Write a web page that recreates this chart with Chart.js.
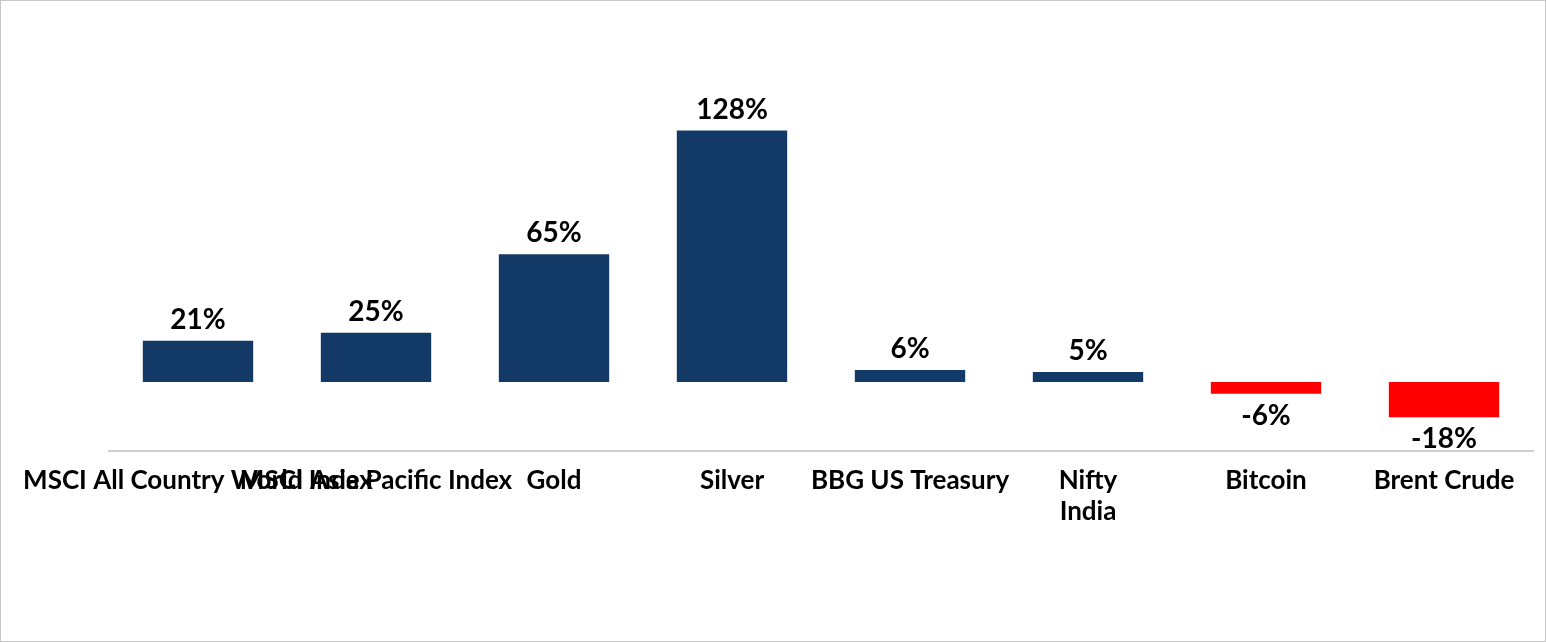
<!DOCTYPE html>
<html>
<head>
<meta charset="utf-8">
<script src="https://cdn.jsdelivr.net/npm/chart.js"></script>
<style>
  body { margin: 0; background: #fff; }
  #wrap { width: 1544px; height: 640px; border: 1px solid #c8c8c8; }
</style>
</head>
<body>
<div id="wrap"><canvas id="chartBar"></canvas></div>
<script>
const categories = ["MSCI All Country World Index", "MSCI Asia Pacific Index", "Gold", "Silver",
  "BBG US Treasury", ["Nifty", "India"], "Bitcoin", "Brent Crude"];
const returns = [21, 25, 65, 128, 6, 5, -6, -18];

const navy = "#133a66";
const red = "#ff0000";

const valueLabels = {
  id: "valueLabels",
  afterDatasetsDraw(chart) {
    const ctx = chart.ctx;
    const meta = chart.getDatasetMeta(0);
    ctx.save();
    ctx.font = "bold 28px Lato, 'Liberation Sans', sans-serif";
    ctx.fillStyle = "#000";
    ctx.textAlign = "center";
    meta.data.forEach((bar, i) => {
      const v = returns[i];
      if (v >= 0) {
        ctx.textBaseline = "bottom";
        ctx.fillText(v + "%", bar.x, bar.y - 7);
      } else {
        ctx.textBaseline = "top";
        ctx.fillText(v + "%", bar.x, bar.y + 8);
      }
    });
    ctx.restore();
  }
};

new Chart(document.getElementById("chartBar"), {
  type: "bar",
  data: {
    labels: categories,
    datasets: [{
      data: returns,
      backgroundColor: returns.map(v => v < 0 ? red : navy),
      barPercentage: 0.62,
      categoryPercentage: 1.0
    }]
  },
  options: {
    responsive: true,
    maintainAspectRatio: false,
    animation: false,
    layout: { padding: { left: 108, right: 12, top: 106, bottom: 100 } },
    plugins: { legend: { display: false }, tooltip: { enabled: false } },
    scales: {
      x: {
        grid: { display: false, drawTicks: false },
        border: { display: true, color: "#d0d0d0", width: 2 },
        ticks: {
          autoSkip: false, maxRotation: 0, minRotation: 0, padding: 14, color: "#000",
          font: { family: "Lato, 'Liberation Sans', sans-serif", size: 26, weight: "bold" }
        }
      },
      y: {
        display: false,
        min: -35,
        max: 140
      }
    }
  },
  plugins: [valueLabels]
});
</script>
</body>
</html>
